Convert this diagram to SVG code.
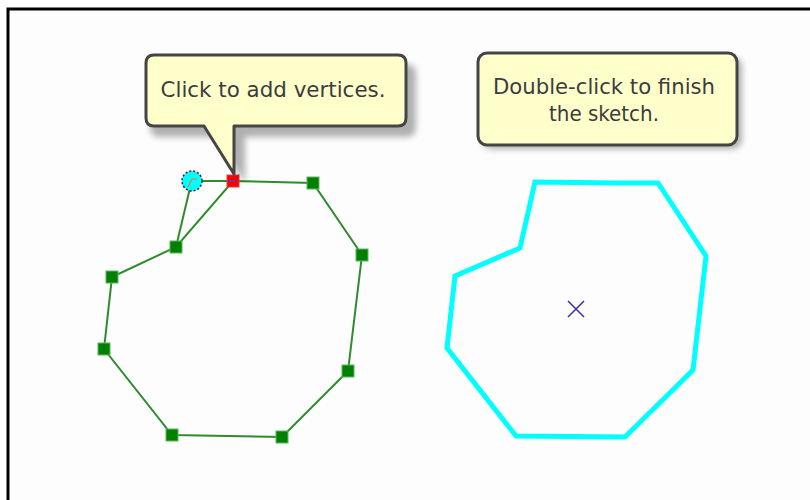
<svg xmlns="http://www.w3.org/2000/svg" width="810" height="500" viewBox="0 0 810 500">
<defs>
<filter id="sh" x="-10%" y="-10%" width="130%" height="140%"><feGaussianBlur stdDeviation="3"/></filter>
<style>
.frame{fill:#fdfdfd;stroke:#000;stroke-width:3}
.tip{fill:#ffffcc;stroke:#454545;stroke-width:3;stroke-linejoin:round}
.tipsh{fill:#000;opacity:0.3}
.txt{font-family:"DejaVu Sans Condensed","DejaVu Sans",Tahoma,sans-serif;font-size:22px;fill:#3c3c3c;text-anchor:middle}
.edge{fill:none;stroke:#2e8b2e;stroke-width:2}
.vtx{fill:#008000;stroke:#5cb85c;stroke-width:1}
.done{fill:none;stroke:#00ffff;stroke-width:5;stroke-linejoin:miter}
</style>
</defs>
<rect class="frame" x="8" y="9" width="810" height="500"/>
<g id="connectors">
<polygon class="edge" points="233,181 313,183 362,255 348,371 282,437 172,435 104,349 112,277 176,247"/>
<line class="edge" x1="192" y1="181" x2="233" y2="181"/>
<line class="edge" x1="190" y1="188" x2="176" y2="247"/>
</g>
<g id="sketch-vertices">
<rect class="vtx" x="307" y="177" width="12" height="12"/>
<rect class="vtx" x="356" y="249" width="12" height="12"/>
<rect class="vtx" x="342" y="365" width="12" height="12"/>
<rect class="vtx" x="276" y="431" width="12" height="12"/>
<rect class="vtx" x="166" y="429" width="12" height="12"/>
<rect class="vtx" x="98" y="343" width="12" height="12"/>
<rect class="vtx" x="106" y="271" width="12" height="12"/>
<rect class="vtx" x="170" y="241" width="12" height="12"/>
</g>
<g id="active-vertex">
<rect x="227" y="175" width="12" height="12" fill="#ff0000" stroke="#e04040"/>
<line x1="229" y1="181" x2="236" y2="181" stroke="#3050c0" stroke-width="1.5"/>
</g>
<g id="cursor">
<circle cx="192" cy="181" r="10" fill="#00ffff" stroke="#202040" stroke-width="1.5" stroke-dasharray="2,2"/>
<path d="M188,187 L192,179 L197,179" fill="none" stroke="#e08020" stroke-width="1.2"/>
</g>
<g id="callout-add">
<path class="tipsh" filter="url(#sh)" d="M156,61 H402 Q412,61 412,71 V124 Q412,134 402,134 H241 V181 L211,134 H156 Q146,134 146,124 V71 Q146,61 156,61 Z" transform="translate(4,3)"/>
<path class="tip" d="M154,55 H398 Q406,55 406,63 V118 Q406,126 398,126 H234 V174 L204,126 H154 Q146,126 146,118 V63 Q146,55 154,55 Z"/>
<text class="txt" x="273" y="97" textLength="225" lengthAdjust="spacingAndGlyphs">Click to add vertices.</text>
</g>
<g id="callout-finish">
<rect class="tipsh" filter="url(#sh)" x="482" y="57" width="260" height="92" rx="9"/>
<rect class="tip" x="478" y="53" width="259" height="92" rx="9"/>
<text class="txt" x="604" y="94" textLength="222" lengthAdjust="spacingAndGlyphs">Double-click to finish</text>
<text class="txt" x="604" y="121" textLength="110" lengthAdjust="spacingAndGlyphs">the sketch.</text>
</g>
<g id="finished-polygon">
<polygon class="done" points="535,182 618,183 658,183 706,256 693,370 625,437 516,436 447,348 455,276 520,248"/>
<path d="M568,301 L584,317 M584,301 L568,317" stroke="#333399" stroke-width="1.5"/>
</g>
</svg>
